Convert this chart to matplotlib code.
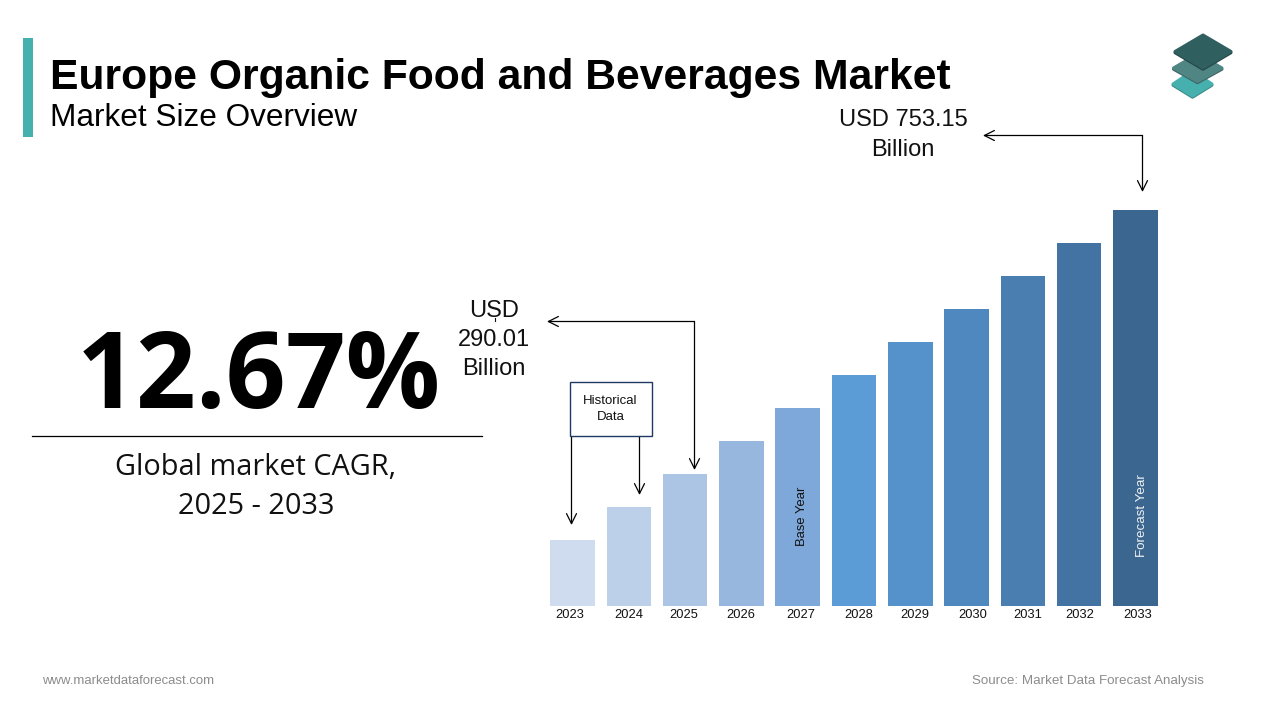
import matplotlib
matplotlib.use("Agg")
import matplotlib.pyplot as plt
from matplotlib.patches import Polygon, Rectangle

years = ["2023","2024","2025","2026","2027","2028","2029","2030","2031","2032","2033"]
bar_index = [2,3,4,5,6,7,8,9,10,11,12]
bar_colors = ["#CFDCEF","#BDD0EA","#ADC5E5","#97B7DE","#7FA8DA","#5B9BD6","#5592CC","#4F88BE","#4A7EB1","#4273A3","#3A6690"]
label_nudge = [-3,0,-1,-1,3,5,5,6,5,1,2]
title = "Europe Organic Food and Beverages Market"
subtitle = "Market Size Overview"
cagr = "12.67%"

W, H = 1280, 720
fig = plt.figure(figsize=(12.8, 7.2), dpi=100, facecolor="white")
SANS = "Liberation Sans"
OPEN = "Open Sans"

# bar chart axes
x0, x1 = 544.4, 1163.6
yb, yt = 606.0, 210.0
ax = fig.add_axes([x0/W, 1-yb/H, (x1-x0)/W, (yb-yt)/H])
ax.bar(range(len(years)), bar_index, width=0.79, color=bar_colors, linewidth=0)
ax.set_xlim(-0.5, 10.5)
ax.set_ylim(0, 12)
ax.set_yticks([])
px_per_unit = (x1-x0)/len(years)
ax.set_xticks([i + n/px_per_unit for i, n in enumerate(label_nudge)])
ax.set_xticklabels(years, fontname=SANS, fontsize=9.3, color="#111111")
ax.tick_params(axis="x", length=0, pad=2)
for s in ax.spines.values():
    s.set_visible(False)
ax.patch.set_alpha(0)
ax.text(4.07, 2.73, "Base Year", rotation=90, ha="center", va="center", fontname=SANS, fontsize=9.4, color="#111111")
ax.text(10.12, 2.74, "Forecast Year", rotation=90, ha="center", va="center", fontname=SANS, fontsize=9.6, color="#F2F2F2")

# overlay in pixel space for the slide furniture
ov = fig.add_axes([0, 0, 1, 1], facecolor="none")
ov.set_xlim(0, W); ov.set_ylim(H, 0); ov.axis("off")

ov.add_patch(Rectangle((23, 38), 10, 99, color="#46B0AE", lw=0))
ov.text(49.5, 78, title, fontname=SANS, fontweight="bold", fontsize=30.7, color="black", va="center", ha="left")
ov.text(50.5, 117.5, subtitle, fontname=SANS, fontsize=22.7, color="black", va="center", ha="left")

ov.text(259, 380, cagr, fontname=OPEN, fontweight="bold", fontsize=75.5, color="black", ha="center", va="center")
ov.plot([32, 481.5], [436, 436], color="black", lw=0.9)
ov.text(256, 467.5, "Global market CAGR,", fontname=OPEN, fontsize=20.8, color="#111111", ha="center", va="center")
ov.text(256, 507, "2025 - 2033", fontname=OPEN, fontsize=20.8, color="#111111", ha="center", va="center")

ov.text(903, 120.5, "USD 753.15", fontname=SANS, fontsize=17, color="#111111", ha="center", va="center")
ov.text(903, 150, "Billion", fontname=SANS, fontsize=17, color="#111111", ha="center", va="center")
for y, s in [(311, "USD"), (340, "290.01"), (369, "Billion")]:
    ov.text(494, y, s, fontname=SANS, fontsize=17, color="#111111", ha="center", va="center")
ov.plot([494.5, 494.5], [318, 321], color="#111111", lw=0.8)

HEAD = "->,head_length=0.72,head_width=0.36"
def arrow(start, end):
    ov.annotate("", xy=end, xytext=start,
                arrowprops=dict(arrowstyle=HEAD, color="black", lw=0.9, shrinkA=0, shrinkB=0))

arrow((1142.5, 135.5), (1142.5, 192))
arrow((1142.5, 135.5), (983, 135.5))
arrow((694.5, 321.5), (694.5, 470))
arrow((694.5, 321.5), (547, 321.5))
arrow((571.5, 436), (571.5, 525))
arrow((639.5, 436), (639.5, 495))

ov.add_patch(Rectangle((570, 382), 82, 54, facecolor="white", edgecolor="#1F3864", lw=1, zorder=3))
ov.text(610.5, 401.5, "Historical", fontname=SANS, fontsize=9.5, color="#111111", ha="center", va="center", zorder=4)
ov.text(610.5, 417, "Data", fontname=SANS, fontsize=9.5, color="#111111", ha="center", va="center", zorder=4)

# logo: three stacked rounded diamonds, each with a thin darker lower edge
def diamond(pts, face, edge):
    shadow = [(x, y + 1.2) for x, y in pts]
    ov.add_patch(Polygon(shadow, closed=True, fc=edge, ec=edge, lw=2.2, joinstyle="round"))
    ov.add_patch(Polygon(pts, closed=True, fc=face, ec=face, lw=2.2, joinstyle="round"))

diamond([(1173, 84), (1192.5, 71), (1212, 84), (1192.5, 96)], "#46B0AE", "#3A8A88")
diamond([(1173.5, 68), (1197.5, 54), (1222, 68), (1197.5, 81.5)], "#4F8583", "#3E6664")
diamond([(1175, 51.5), (1203, 35), (1231, 51.5), (1203, 68)], "#2F5F5E", "#234544")

ov.text(42.5, 680.5, "www.marketdataforecast.com", fontname=SANS, fontsize=9.45, color="#8C8C8C", ha="left", va="center")
ov.text(1204, 681.2, "Source: Market Data Forecast Analysis", fontname=SANS, fontsize=9.6, color="#8C8C8C", ha="right", va="center")

fig.savefig("out.png", dpi=100, facecolor="white")
